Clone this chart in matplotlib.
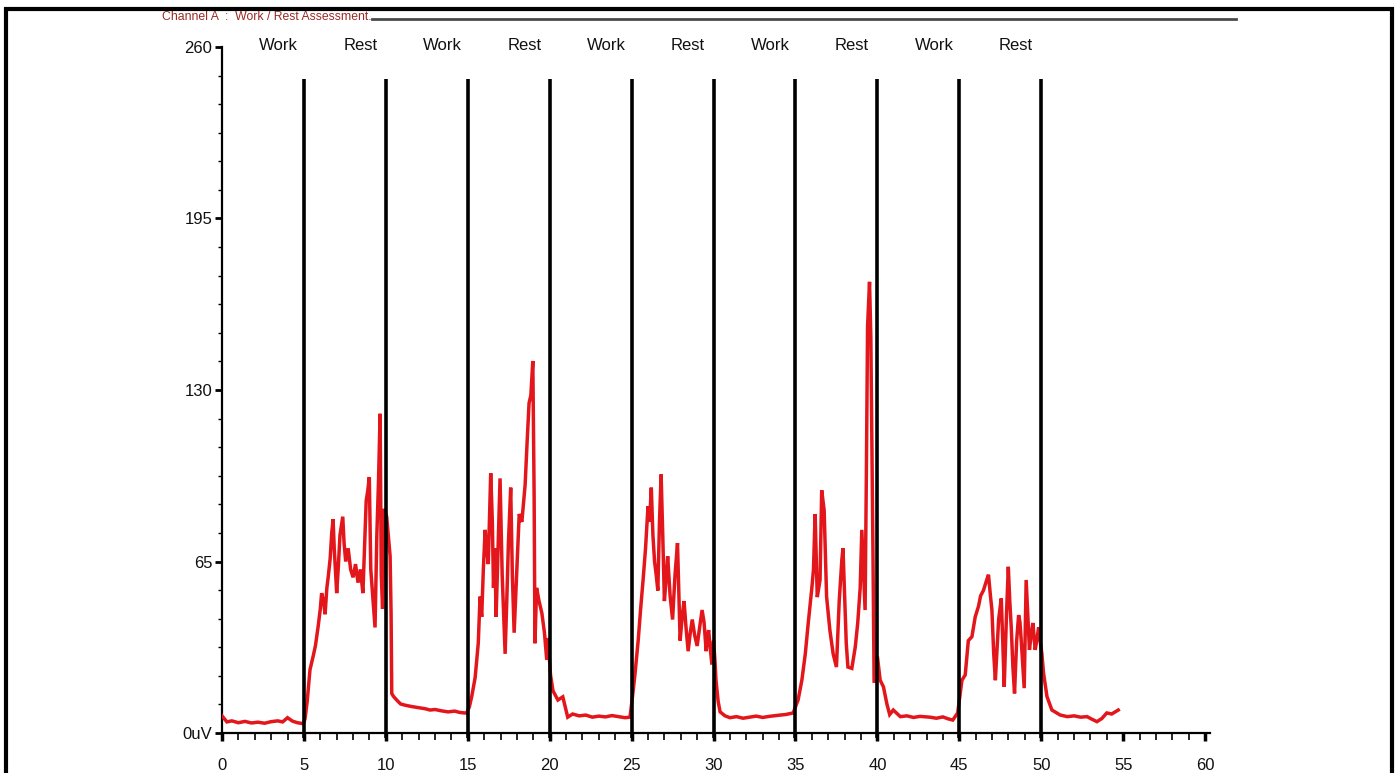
import numpy as np
import matplotlib
matplotlib.use("Agg")
import matplotlib.pyplot as plt
from matplotlib.ticker import MultipleLocator, FixedLocator
from matplotlib.patches import Rectangle

# EMG trace (seconds, uV), split by phase
rest0_t = [0.0, 0.3, 0.6, 1.0, 1.4, 1.8, 2.2, 2.6, 3.0, 3.4, 3.7, 4.0, 4.3, 4.6, 4.9]
rest0_uv = [6.5, 4.2, 4.6, 3.9, 4.4, 3.8, 4.1, 3.7, 4.3, 4.6, 4.2, 5.8, 4.5, 3.9, 3.6]

burst1_t = [5.0, 5.07, 5.2, 5.37, 5.56, 5.7, 5.86, 6.0, 6.08, 6.2, 6.29, 6.4, 6.48, 6.6,
            6.7, 6.78, 6.85, 7.0, 7.1, 7.2, 7.37, 7.45, 7.55, 7.7, 7.85, 8.0, 8.15, 8.3,
            8.45, 8.6, 8.7, 8.8, 8.9, 8.99, 9.08, 9.2, 9.34, 9.45, 9.55, 9.65, 9.72, 9.8,
            9.9, 10.05, 10.15, 10.26, 10.32, 10.36, 10.45, 10.66, 10.9]
burst1_uv = [4.0, 5.5, 12, 24, 29, 33, 40, 47, 53, 50, 45, 55, 59, 66,
             76, 81, 70, 53, 63, 75, 82, 72, 65, 70, 62, 59, 64, 57,
             62, 53, 70, 88, 92, 97, 62, 52, 40, 75, 95, 121, 60, 47,
             85, 82, 75, 67, 45, 15, 14, 12.5, 11]

rest1_t = [11.2, 11.6, 12.0, 12.4, 12.7, 13.0, 13.4, 13.8, 14.2, 14.5, 14.8]
rest1_uv = [10.5, 10.0, 9.6, 9.2, 8.7, 8.9, 8.4, 8.0, 8.3, 7.8, 7.6]

burst2_t = [14.94, 15.1, 15.24, 15.45, 15.64, 15.75, 15.85, 15.95, 16.06, 16.15, 16.25,
            16.4, 16.5, 16.57, 16.65, 16.73, 16.85, 16.97, 17.1, 17.28, 17.38, 17.48,
            17.62, 17.72, 17.83, 17.98, 18.14, 18.3, 18.5, 18.62, 18.74, 18.85, 18.97,
            19.05, 19.1, 19.2, 19.35, 19.52, 19.68, 19.82, 19.9, 20.05, 20.2, 20.5,
            20.8, 21.1]
burst2_uv = [7.6, 10, 13.8, 21, 34, 51.7, 44, 62, 77, 70, 64,
             98.5, 80, 55, 70, 44, 70, 96.5, 60, 30, 50, 72,
             93, 60, 38, 60, 83, 80, 94, 110, 125, 128, 141,
             90, 34, 55, 50, 45.5, 38, 27.7, 36, 22, 16, 12.5,
             13.7, 6]

rest2_t = [21.4, 21.8, 22.2, 22.6, 23.0, 23.4, 23.8, 24.2, 24.6, 24.9]
rest2_uv = [7.2, 6.5, 6.8, 6.0, 6.4, 6.1, 6.6, 6.2, 5.8, 6.0]

burst3_t = [25.03, 25.2, 25.4, 25.55, 25.7, 25.85, 26.0, 26.1, 26.2, 26.3, 26.4, 26.5,
            26.6, 26.7, 26.8, 26.9, 27.0, 27.1, 27.2, 27.35, 27.5, 27.65, 27.8, 27.96,
            28.1, 28.2, 28.32, 28.45, 28.58, 28.7, 28.85, 29.0, 29.15, 29.3, 29.42,
            29.55, 29.62, 29.7, 29.8, 29.9, 30.0, 30.08, 30.15, 30.28, 30.4]
burst3_uv = [12.5, 22, 35, 47, 58, 70, 86, 80, 93, 75, 65, 60,
             54, 80, 98, 75, 50, 58, 67, 52, 43, 60, 72, 35,
             45, 50, 40, 31, 38, 43, 37, 33, 40, 46.6, 42,
             31, 36, 39, 32, 26, 35, 28, 20, 12, 8]

rest3_t = [30.7, 31.0, 31.4, 31.8, 32.2, 32.6, 33.0, 33.4, 33.8, 34.07, 34.4, 34.86]
rest3_uv = [6.5, 5.8, 6.2, 5.6, 6.0, 6.4, 5.9, 6.3, 6.6, 6.8, 7.0, 7.6]

burst4_t = [35.16, 35.39, 35.6, 35.78, 36.0, 36.1, 36.2, 36.33, 36.5, 36.6, 36.75, 36.9,
            37.1, 37.3, 37.5, 37.67, 37.83, 37.9, 38.1, 38.2, 38.44, 38.65, 38.8, 38.95,
            39.05, 39.25, 39.33, 39.4, 39.52, 39.6, 39.73, 39.8, 40.0, 40.17, 40.37,
            40.58, 40.75, 40.97]
burst4_uv = [12.5, 20, 30, 41.7, 55, 62, 83, 51.5, 58, 92, 84.5, 51.6,
             39, 30, 25, 50, 65.6, 70, 34, 25, 24.5, 32.6, 41.7, 55,
             77, 46.6, 100, 154, 171, 150, 68, 19, 29, 20, 17.5,
             11, 7, 8.7]

rest4_t = [41.4, 41.8, 42.2, 42.6, 43.2, 43.6, 44.0, 44.3, 44.6]
rest4_uv = [6.2, 6.5, 5.9, 6.3, 6.0, 5.6, 6.1, 5.4, 4.9]

burst5_t = [44.9, 45.16, 45.36, 45.55, 45.77, 45.97, 46.17, 46.3, 46.47, 46.62, 46.78,
            46.9, 46.99, 47.1, 47.2, 47.4, 47.56, 47.65, 47.74, 47.88, 47.99, 48.08,
            48.17, 48.27, 48.37, 48.5, 48.62, 48.7, 48.78, 48.88, 48.96, 49.08, 49.18,
            49.28, 49.4, 49.49, 49.63, 49.75, 49.84, 49.95, 50.04, 50.14, 50.35, 50.65]
burst5_uv = [7.6, 20, 22, 35, 36.5, 44, 48, 52, 54, 57, 60,
             52, 46.6, 30, 20, 43, 51, 35, 17.5, 45, 63, 50,
             40, 25, 15, 35, 44.7, 42, 35, 25, 17, 58, 45,
             31.5, 38, 41.7, 31.5, 36, 40, 34, 30, 22.7, 13.8, 8.7]

rest5_t = [51.16, 51.6, 52.0, 52.4, 52.8, 53.1, 53.4, 53.7, 54.0, 54.3, 54.7]
rest5_uv = [6.8, 6.2, 6.5, 6.0, 6.2, 5.2, 4.3, 5.5, 7.6, 7.2, 8.7]

phase_names = ["Work", "Rest", "Work", "Rest", "Work", "Rest", "Work", "Rest", "Work", "Rest"]
phase_starts = [0, 5, 10, 15, 20, 25, 30, 35, 40, 45]
markers = [5, 10, 15, 20, 25, 30, 35, 40, 45, 50]
y_ticks = [0, 65, 130, 195, 260]
y_labels = ["0uV", "65", "130", "195", "260"]
x_ticks = [0, 5, 10, 15, 20, 25, 30, 35, 40, 45, 50, 55, 60]

t = np.concatenate([rest0_t, burst1_t, rest1_t, burst2_t, rest2_t, burst3_t,
                    rest3_t, burst4_t, rest4_t, burst5_t, rest5_t])
uv = np.concatenate([rest0_uv, burst1_uv, rest1_uv, burst2_uv, rest2_uv, burst3_uv,
                     rest3_uv, burst4_uv, rest4_uv, burst5_uv, rest5_uv])

plt.rcParams['font.family'] = ['Liberation Sans', 'DejaVu Sans']
fig = plt.figure(figsize=(13.96, 7.73), dpi=100)
fig.patch.set_facecolor("white")

W, H = 1396, 773
ax = fig.add_axes([222 / W, 1 - 733 / H, (1210 - 222) / W, 686 / H])
ax.set_xlim(0, 60.3)
ax.set_ylim(0, 260)

# signal
ax.plot(t, uv, color="#e3161c", lw=2.5, solid_joinstyle="miter", zorder=3)

# phase boundaries
ax.vlines(markers, -2, 248, color="black", lw=2.6, zorder=4, clip_on=False)

# phase labels
for name, start in zip(phase_names, phase_starts):
    ax.text(start + 3.45, 260.5, name, ha="center", va="center", fontsize=12,
            color="#111111", clip_on=False)

for side in ["top", "right"]:
    ax.spines[side].set_visible(False)
ax.spines["left"].set_linewidth(1.6)
ax.spines["bottom"].set_linewidth(1.6)

ax.xaxis.set_major_locator(FixedLocator(x_ticks))
ax.xaxis.set_minor_locator(MultipleLocator(1))
ax.set_xticklabels([str(v) for v in x_ticks])
ax.tick_params(axis="x", which="major", direction="out", length=6, width=2.5,
               pad=12, labelsize=12, labelcolor="#111111")
ax.tick_params(axis="x", which="minor", direction="out", length=5, width=1.2)

ax.yaxis.set_major_locator(FixedLocator(y_ticks))
ax.yaxis.set_minor_locator(MultipleLocator(65 / 6))
ax.set_yticklabels(y_labels)
ax.tick_params(axis="y", which="major", direction="out", length=5, width=2,
               pad=2, labelsize=12, labelcolor="#111111")
ax.tick_params(axis="y", which="minor", direction="out", length=3, width=1)

# header
fig.text(162 / W, 1 - 17 / H, "Channel A  :  Work / Rest Assessment.", ha="left",
         va="center", fontsize=8.8, color="#9b2a24")
fig.add_artist(plt.Line2D([372 / W, 1236 / W], [1 - 19 / H, 1 - 19 / H],
                          color="#4a4a4a", lw=2))

# outer frame
fig.add_artist(Rectangle((6 / W, -0.05), (1392 - 6) / W, 1.05 - 9 / H,
                         fill=False, edgecolor="black", lw=3,
                         transform=fig.transFigure))

fig.savefig("out.png", dpi=100)
